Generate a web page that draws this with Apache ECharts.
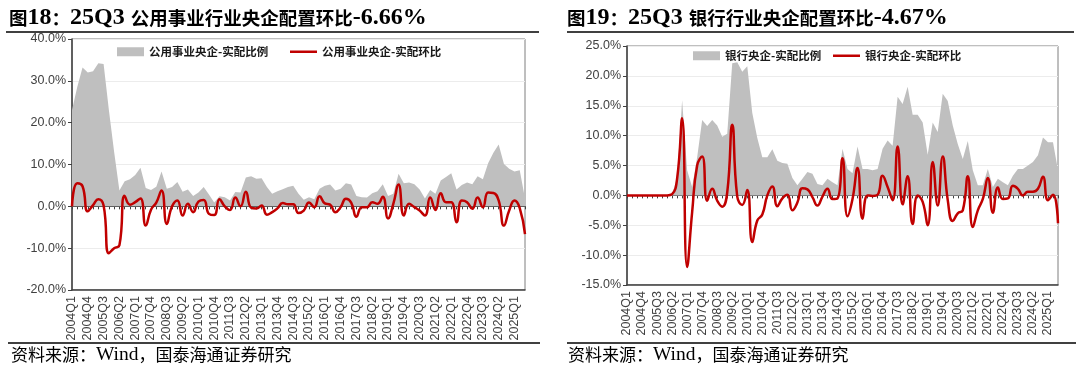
<!DOCTYPE html>
<html>
<head>
<meta charset="utf-8">
<script src="https://cdn.jsdelivr.net/npm/echarts@6/dist/echarts.min.js"></script>
<style>
  html, body { margin: 0; padding: 0; background: #fff; }
  #main { width: 1080px; height: 376px; }
</style>
</head>
<body>
<div id="main"></div>
<script>
// 季度 2004Q1 ~ 2025Q3
const quarters = []
for (let y = 2004; y <= 2025; y++) {
  for (let q = 1; q <= 4; q++) {
    if (y === 2025 && q > 3) break
    quarters.push(y + 'Q' + q)
  }
}

// 图18 公用事业央企 (%)
const utilityRatio = [
  23, 28.5, 33.2, 32, 32.3, 34.2, 34, 23, 13, 3.8,
  6, 6.5, 7.5, 9.2, 4.4, 3.9, 4.7, 8.3, 4.2, 4.6,
  5.8, 3.5, 4.0, 2.5, 3.3, 4.6, 2.8, 0.9, 2.4, 2.2,
  1.4, 3.4, 3.3, 6.9, 7.2, 6.6, 6.7, 4.6, 3.0, 3.6,
  4.1, 4.6, 4.9, 3.0, 1.6, 2.2, 1.7, 4.2, 4.9, 5.2,
  3.8, 4.2, 5.5, 5.2, 2.5, 2.2, 2.1, 3.1, 3.6, 5.3,
  2.5, 3.0, 7.8, 5.5, 5.7, 5.3, 4.0, 1.9, 3.9, 3.0,
  6.2, 7.0, 7.9, 4.0, 5.1, 5.7, 5.3, 7.2, 6.5, 10.3,
  12.8, 14.8, 10.1, 9.0, 8.3, 8.6, 1.9
]
const utilityQoQ = [
  0, 5.5, 4.8, -1.2, 0.3, 1.7, 0.2, -11.2, -10, -9.3,
  2.5, 0.4, 1.0, 1.9, -4.6, -0.8, 0.9, 3.8, -4.2, 0.0,
  1.4, -2.2, 0.6, -1.4, 1.1, 1.5, -1.8, -2.1, 1.7, 0.0,
  -0.9, 2.1, 0.0, 3.5, -0.3, -0.5, 0.2, -2.0, -1.4, -0.5,
  0.8, 0.5, 0.5, -1.6, -1.0, 0.9, -0.2, 2.4, 0.7, 0.4,
  -1.4, -0.2, 1.8, 0.9, -2.5, -0.2, -0.2, 1.0, 0.6, 2.3,
  -2.9, 0.6, 5.2, -2.2, 0.6, -0.2, -1.0, -2.2, 2.1, -0.9,
  3.1, 1.0, 1.0, -3.8, 1.4, 1.0, -0.6, 2.1, -0.2, 3.3,
  3.2, 1.4, -4.6, -1.0, 1.4, -0.4, -6.66
]

// 图19 银行央企 (%)
const bankRatio = [
  0, 0, 0, 0, 0, 0, 0, 0, 0, 0.2,
  3, 15.9, 4.2, 1.4, 6.4, 12.6, 11.6, 12.6, 11.7, 9.8,
  10.3, 22.1, 22.3, 20.7, 21.6, 13.8, 9.6, 6.4, 6.4, 7.7,
  5.8, 5.4, 5.3, 2.9, 1.7, 2.8, 3.9, 3.6, 1.9, 1.7,
  2.8, 2.2, 1.7, 7.8, 4.4, 3.7, 8.2, 4.4, 4.4, 4.2,
  4.4, 7.8, 9.2, 8.3, 16.5, 15.3, 18.2, 13.5, 13.5, 12.2,
  6.8, 12.2, 10.6, 17.0, 15.8, 11.7, 8.6, 6.1, 9.1, 4.2,
  1.7, 1.7, 4.4, 1.4, 2.8, 2.2, 1.7, 3.3, 4.4, 4.4,
  5.0, 5.6, 6.7, 9.7, 8.9, 8.9, 4.2
]
const bankQoQ = [
  0, 0, 0, 0, 0, 0, 0, 0, 0, 0.2,
  2.8, 12.9, -12.0, -2.8, 5.0, 6.5, -0.9, 1.1, -0.9, -1.9,
  0.5, 11.8, -0.2, -1.6, 0.9, -7.8, -4.2, -3.2, 0.0, 1.5,
  -1.8, -0.5, 0.1, -2.5, -1.2, 1.2, 1.0, -0.3, -1.7, -0.2,
  1.1, -0.6, -0.5, 6.2, -3.5, -0.6, 4.6, -3.9, 0.0, -0.1,
  0.1, 3.3, 1.4, -0.8, 8.2, -1.5, 3.2, -4.8, 0.0, -1.1,
  -5.0, 5.6, -1.7, 6.5, -0.8, -4.3, -3.0, -2.5, 3.2, -5.3,
  -2.5, -0.6, 2.9, -2.9, 1.3, -0.6, -0.5, 1.6, 1.1, 0.0,
  0.6, 0.6, 1.1, 3.1, -0.8, 0.1, -4.67
]

const sans = "'Liberation Sans', Arial, 'Noto Sans CJK SC', sans-serif"
const latinSerif = "'Liberation Serif', 'Times New Roman', serif"
const cjk = "'Noto Sans CJK SC', sans-serif"
const grey = '#BFBFBF'
const red = '#C00000'
const axisColor = '#404040'

function labelAxis(gridIndex) {
  return {
    type: 'category',
    gridIndex,
    data: quarters,
    boundaryGap: false,
    position: 'bottom',
    axisLine: { show: true, onZero: false, lineStyle: { color: axisColor, width: 1.5 } },
    axisTick: { show: false },
    axisLabel: { interval: 2, rotate: 90, fontSize: 12.5, color: axisColor, fontFamily: sans, margin: 6 },
    splitLine: { show: false }
  }
}

// 0 轴上的刻度线
function zeroAxis(gridIndex) {
  return {
    type: 'category',
    gridIndex,
    data: quarters,
    boundaryGap: false,
    position: 'bottom',
    axisLine: { show: true, onZero: true, lineStyle: { color: axisColor, width: 1 } },
    axisTick: { show: true, interval: 0, length: 3, lineStyle: { color: axisColor } },
    axisLabel: { show: false },
    splitLine: { show: false }
  }
}

function valueAxis(gridIndex, min, max, interval) {
  return {
    type: 'value',
    gridIndex,
    min,
    max,
    interval,
    axisLine: { show: true, lineStyle: { color: axisColor, width: 1.5 } },
    axisTick: { show: true, length: 4, lineStyle: { color: axisColor } },
    axisLabel: {
      formatter: v => v.toFixed(1) + '%',
      fontSize: 12.5,
      color: axisColor,
      fontFamily: sans,
      margin: 6
    },
    splitLine: { lineStyle: { color: '#ececec' } }
  }
}

function areaSeries(name, data, axisIndex) {
  return {
    name,
    type: 'line',
    xAxisIndex: axisIndex * 2,
    yAxisIndex: axisIndex,
    data,
    symbol: 'none',
    lineStyle: { width: 0 },
    itemStyle: { color: grey },
    areaStyle: { color: grey, opacity: 1 },
    z: 1
  }
}

function lineSeries(name, data, axisIndex) {
  return {
    name,
    type: 'line',
    xAxisIndex: axisIndex * 2,
    yAxisIndex: axisIndex,
    data,
    smooth: true,
    symbol: 'none',
    lineStyle: { width: 2.5, color: red },
    itemStyle: { color: red },
    z: 3
  }
}

const legendText = { fontSize: 11.5, fontWeight: 'bold', color: '#1a1a1a', fontFamily: cjk }

function legendItem(name, left, top, isLine) {
  return {
    data: [{ name, icon: 'rect' }],
    left,
    top,
    padding: 0,
    itemWidth: 27,
    itemHeight: isLine ? 2.5 : 9,
    selectedMode: false,
    textStyle: legendText
  }
}

// 中文与西文字号不同，用 rich 区分
const titleText = {
  rich: {
    c: { fontSize: 18.5, fontWeight: 'bold', color: '#000', fontFamily: cjk },
    l: { fontSize: 24, fontWeight: 'bold', color: '#000', fontFamily: latinSerif }
  }
}
const sourceText = {
  fontWeight: 'normal',
  rich: {
    c: { fontSize: 17, fontWeight: 'normal', color: '#000', fontFamily: cjk },
    l: { fontSize: 19.5, fontWeight: 'normal', color: '#000', fontFamily: latinSerif }
  }
}
const sourceLine = '{c|资料来源：}{l|Wind}{c|，国泰海通证券研究}'

const chart = echarts.init(document.getElementById('main'))
chart.setOption({
  animation: false,
  backgroundColor: '#fff',
  title: [
    { text: '{c|图}{l|18}{c|：}{l|25Q3 }{c|公用事业行业央企配置环比}{l|-6.66%}', left: 9, top: 6, padding: 0, textStyle: titleText },
    { text: '{c|图}{l|19}{c|：}{l|25Q3 }{c|银行行业央企配置环比}{l|-4.67%}', left: 567, top: 6, padding: 0, textStyle: titleText },
    { text: sourceLine, left: 11, top: 345, padding: 0, textStyle: sourceText },
    { text: sourceLine, left: 568, top: 345, padding: 0, textStyle: sourceText }
  ],
  legend: [
    legendItem('公用事业央企-实配比例', 117, 46, false),
    legendItem('公用事业央企-实配环比', 290, 46, true),
    legendItem('银行央企-实配比例', 693, 50, false),
    legendItem('银行央企-实配环比', 833, 50, true)
  ],
  grid: [
    { left: 72, top: 39, width: 453, height: 251, show: true, borderColor: '#7f7f7f', borderWidth: 1 },
    { left: 627, top: 46, width: 431, height: 239, show: true, borderColor: '#7f7f7f', borderWidth: 1 }
  ],
  xAxis: [labelAxis(0), zeroAxis(0), labelAxis(1), zeroAxis(1)],
  yAxis: [valueAxis(0, -20, 40, 10), valueAxis(1, -15, 25, 5)],
  series: [
    areaSeries('公用事业央企-实配比例', utilityRatio, 0),
    lineSeries('公用事业央企-实配环比', utilityQoQ, 0),
    areaSeries('银行央企-实配比例', bankRatio, 1),
    lineSeries('银行央企-实配环比', bankQoQ, 1)
  ],
  graphic: [
    { type: 'line', shape: { x1: 6, y1: 32, x2: 539, y2: 32 }, style: { stroke: '#000', lineWidth: 1.5 } },
    { type: 'line', shape: { x1: 567, y1: 32, x2: 1074, y2: 32 }, style: { stroke: '#000', lineWidth: 1.5 } },
    { type: 'line', shape: { x1: 8, y1: 343, x2: 540, y2: 343 }, style: { stroke: '#000', lineWidth: 1.5 } },
    { type: 'line', shape: { x1: 567, y1: 343, x2: 1076, y2: 343 }, style: { stroke: '#000', lineWidth: 1.5 } }
  ]
})
</script>
</body>
</html>
